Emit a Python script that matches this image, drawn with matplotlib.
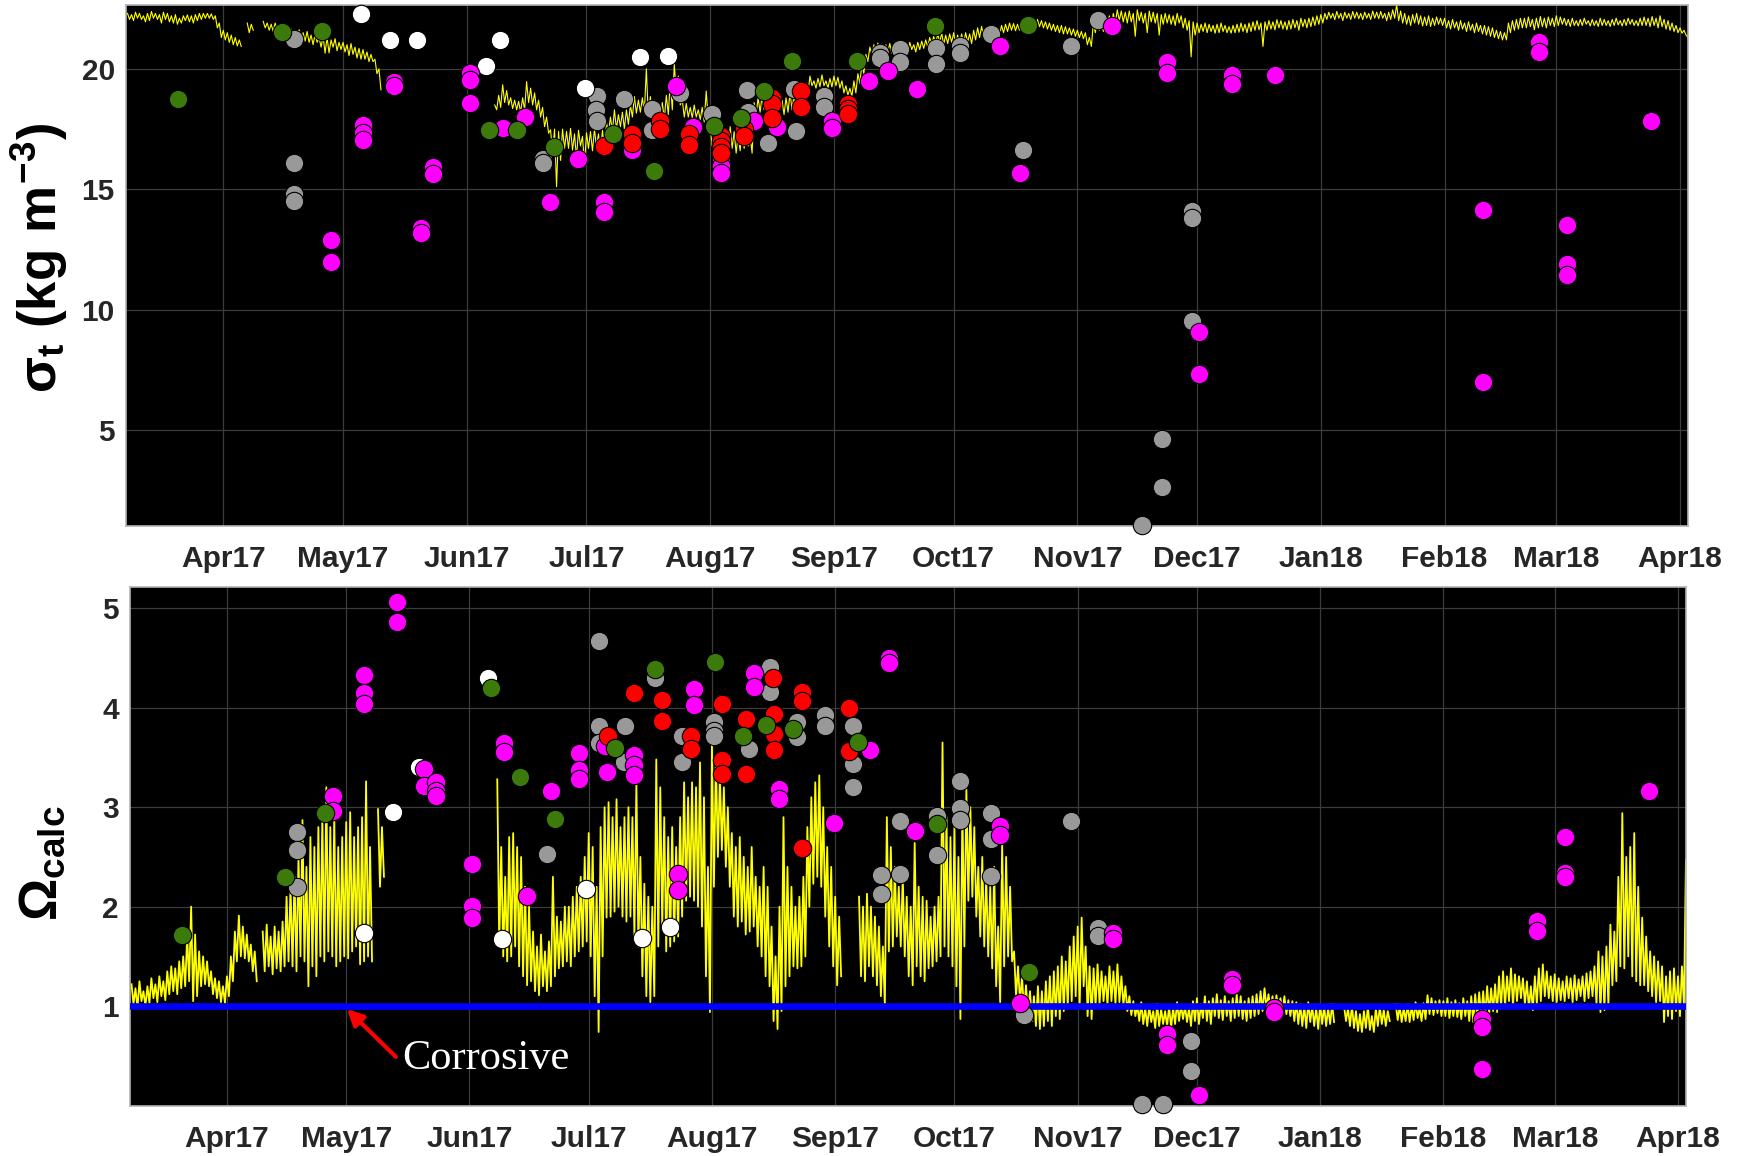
import numpy as np
import matplotlib
matplotlib.use("Agg")
import matplotlib.pyplot as plt
import matplotlib.dates as mdates
from datetime import datetime

plt.rcParams["font.family"] = ["Liberation Sans", "DejaVu Sans"]
plt.rcParams["font.weight"] = "bold"
plt.rcParams["mathtext.fontset"] = "custom"
for key in ("mathtext.rm", "mathtext.it", "mathtext.bf", "mathtext.sf"):
    plt.rcParams[key] = "Liberation Sans:bold"

nan = float("nan")

# ---------------------------------------------------------------------------
# Mooring time series, daily max / min (day of year 2017, 0 = 1 Jan 2017)
# ---------------------------------------------------------------------------
FIRST_DAY = 66

sigma_hi = [
    22.3, 22.25, 22.35, 22.3, 22.2, 22.3, 22.38, 22.3, 22.25, 22.35,        # 66
    22.3, 22.2, 22.25, 22.1, 22.2, 22.24, 22.2, 22.25, 22.3, 22.3,          # 76
    22.3, 22.28, 22.2, 21.9, 21.6, 21.5, 21.4, 21.3, 21.2, nan,             # 86
    21.9, 21.85, nan, nan, 21.97, 21.9, 21.85, 21.9, 21.8, 21.75,           # 96
    21.7, 21.65, 21.6, 21.62, 21.5, 21.55, 21.4, 21.45, 21.3, 21.35,        # 106
    21.3, 21.2, 21.25, 21.1, 21.1, 21.0, 21.05, 20.9, 20.85, 20.8,          # 116
    20.7, 20.6, 20.4, 20.0, nan, nan, nan, nan, nan, nan,                   # 126
    nan, nan, nan, nan, nan, nan, nan, nan, nan, nan,                       # 136
    nan, nan, nan, nan, nan, nan, nan, nan, nan, nan,                       # 146
    nan, nan, 18.5, 18.9, 19.34, 19.1, 18.8, 18.7, 18.65, 18.8,             # 156
    19.47, 19.2, 19.0, 18.7, 18.4, 18.0, 17.47, 17.5, 17.4, 17.5,           # 166
    17.4, 17.53, 17.3, 17.45, 17.2, 17.35, 17.4, 17.5, 17.3, 17.45,         # 176
    17.8, 18.0, 18.3, 18.1, 18.2, 18.3, 18.5, 18.85, 18.7, 18.8,            # 186
    20.0, 18.85, 18.7, 18.5, 18.6, 18.9, 19.5, 20.2, 19.7, 18.7,            # 196
    18.56, 18.4, 18.5, 18.3, 18.4, 19.08, 17.6, 17.5, 17.4, 17.6,           # 206
    17.5, 17.6, 17.4, 17.3, 17.5, 17.6, 17.2, 18.6, 18.8, 18.9,             # 216
    18.9, 19.0, 18.8, 18.9, 18.7, 18.8, 19.0, 18.9, 18.8, 19.1,             # 226
    19.4, 19.7, 19.5, 19.6, 19.75, 19.5, 19.6, 19.7, 19.65, 19.5,           # 236
    19.3, 19.2, 19.5, 19.8, 20.2, 20.6, 20.9, 21.0, 21.07, 21.0,            # 246
    21.0, 21.05, 21.0, 21.1, 21.0, 21.05, 21.1, 21.0, 21.1, 21.15,          # 256
    21.2, 21.3, 21.35, 21.45, 21.48, 21.4, 21.45, 21.5, 21.4, 21.45,        # 266
    21.5, 21.45, 21.6, 21.7, 21.76, 21.65, 21.7, 21.75, 21.7, 21.8,         # 276
    21.85, 21.9, 21.88, 21.85, 21.9, 21.95, 21.85, 22.1, 22.05, 22.0,       # 286
    21.95, 21.9, 21.85, 21.8, 21.8, 21.75, 21.7, 21.65, 21.6, 21.55,        # 296
    21.5, 21.3, 21.9, 22.0, 21.95, 22.1, 22.2, 22.3, 22.45, 22.4,           # 306
    22.35, 22.4, 22.3, 22.45, 22.35, 22.3, 22.4, 22.35, 22.3, 22.25,        # 316
    22.3, 22.25, 22.2, 22.3, 22.2, 22.1, 22.0, 21.95, 21.9, 21.85,          # 326
    21.9, 21.85, 21.8, 21.85, 21.9, 21.8, 21.75, 21.8, 21.85, 21.9,         # 336
    21.85, 21.9, 21.95, 22.0, 21.9, 21.95, 22.0, 21.95, 22.04, 22.0,        # 346
    21.95, 22.0, 22.05, 22.0, 22.1, 22.05, 22.1, 22.15, 22.2, 22.25,        # 356
    22.3, 22.35, 22.3, 22.38, 22.3, 22.35, 22.3, 22.38, 22.35, 22.3,        # 366
    22.35, 22.3, 22.4, 22.35, 22.38, 22.3, 22.35, 22.45, 22.66, 22.4,       # 376
    22.3, 22.2, 22.25, 22.3, 22.2, 22.15, 22.2, 22.1, 22.15, 22.1,          # 386
    22.1, 22.0, 22.05, 21.95, 22.0, 21.9, 21.95, 21.85, 21.9, 21.8,         # 396
    21.8, 21.75, 21.7, 21.6, 21.55, 21.5, 21.9, 22.0, 22.05, 22.1,          # 406
    22.1, 22.15, 22.05, 22.1, 22.17, 22.1, 22.15, 22.1, 22.2, 22.15,        # 416
    22.1, 22.05, 22.1, 22.0, 22.05, 22.1, 22.0, 22.05, 22.0, 22.1,          # 426
    22.05, 22.0, 22.05, 22.1, 22.0, 22.05, 22.1, 22.05, 22.0, 22.1,         # 436
    22.15, 22.1, 22.17, 22.1, 22.2, 22.05, 22.0, 21.9, 21.8, 21.7, 21.6, 21.3,  # 446
]

sigma_lo = [
    22.05, 22.0, 22.1, 22.05, 21.95, 22.0, 22.1, 22.05, 21.9, 22.05,        # 66
    21.95, 21.9, 21.85, 21.9, 22.0, 21.95, 21.9, 22.0, 22.05, 22.1,         # 76
    22.1, 22.05, 21.7, 21.3, 21.2, 21.1, 21.0, 20.95, 20.93, nan,           # 86
    21.5, 21.6, nan, nan, 21.7, 21.6, 21.55, 21.6, 21.5, 21.48,             # 96
    21.4, 21.3, 21.2, 21.25, 21.15, 21.1, 21.0, 21.1, 20.9, 20.65,          # 106
    20.66, 20.9, 20.75, 20.8, 20.7, 20.55, 20.6, 20.45, 20.4, 20.4,         # 116
    20.3, 20.3, 19.8, 19.13, nan, nan, nan, nan, nan, nan,                  # 126
    nan, nan, nan, nan, nan, nan, nan, nan, nan, nan,                       # 136
    nan, nan, nan, nan, nan, nan, nan, nan, nan, nan,                       # 146
    nan, nan, 18.3, 18.4, 18.6, 18.5, 18.35, 18.3, 18.2, 18.3,              # 156
    18.6, 18.5, 18.3, 18.0, 17.6, 17.33, 16.5, 15.11, 16.2, 16.7,           # 166
    16.7, 16.63, 16.3, 16.8, 16.0, 16.7, 16.6, 16.75, 16.5, 16.8,           # 176
    17.33, 17.4, 17.5, 17.6, 17.5, 17.7, 18.0, 18.16, 18.2, 18.2,           # 186
    18.0, 18.0, 17.9, 17.8, 17.9, 18.1, 18.3, 19.0, 18.5, 18.0,             # 196
    18.0, 17.97, 18.0, 17.9, 17.8, 17.9, 16.8, 16.5, 16.7, 16.6,            # 206
    16.6, 16.7, 16.5, 16.6, 16.7, 16.8, 16.5, 18.1, 18.2, 18.3,             # 216
    18.3, 18.35, 18.2, 18.3, 18.1, 18.2, 18.3, 18.4, 18.3, 18.4,            # 226
    19.0, 19.3, 19.2, 19.26, 19.3, 19.2, 19.25, 19.3, 19.2, 19.0,           # 236
    18.9, 18.86, 19.0, 19.4, 19.8, 20.3, 20.6, 20.65, 20.7, 20.65,          # 246
    20.7, 20.65, 20.7, 20.58, 20.75, 20.7, 20.8, 20.7, 20.8, 20.85,         # 256
    20.9, 21.0, 21.05, 21.1, 21.0, 21.05, 21.1, 21.0, 21.1, 21.05,          # 266
    21.1, 21.05, 21.2, 21.3, 21.35, 21.25, 21.3, 21.35, 21.4, 21.5,         # 276
    21.55, 21.6, 21.58, 21.6, 21.65, 21.6, 21.55, 21.8, 21.75, 21.7,        # 286
    21.65, 21.6, 21.55, 21.5, 21.45, 21.45, 21.4, 21.35, 21.3, 21.25,       # 296
    21.0, 20.93, 21.5, 21.6, 21.55, 21.7, 21.8, 21.9, 22.0, 21.95,          # 306
    21.9, 21.95, 21.35, 22.0, 21.9, 21.5, 21.95, 21.9, 21.4, 21.85,         # 316
    21.9, 21.85, 21.8, 21.9, 21.7, 21.6, 20.5, 21.4, 21.5, 21.55,           # 326
    21.5, 21.55, 21.48, 21.5, 21.55, 21.5, 21.48, 21.5, 21.52, 21.55,       # 336
    21.5, 21.55, 21.6, 21.62, 20.93, 21.6, 21.65, 21.62, 21.7, 21.65,       # 346
    21.62, 21.65, 21.7, 21.6, 21.75, 21.7, 21.75, 21.8, 21.85, 21.9,        # 356
    22.05, 22.1, 22.04, 22.1, 22.0, 22.1, 22.05, 22.1, 22.08, 22.04,        # 366
    22.1, 22.05, 22.1, 22.08, 22.1, 22.0, 22.05, 22.1, 22.0, 21.9,          # 376
    21.85, 21.8, 21.9, 21.85, 21.78, 21.8, 21.76, 21.8, 21.85, 21.8,        # 386
    21.7, 21.65, 21.7, 21.6, 21.65, 21.55, 21.6, 21.5, 21.55, 21.45,        # 396
    21.4, 21.35, 21.3, 21.25, 21.2, 21.2, 21.5, 21.6, 21.65, 21.7,          # 406
    21.7, 21.75, 21.62, 21.7, 21.75, 21.7, 21.8, 21.75, 21.8, 21.85,        # 416
    21.8, 21.76, 21.8, 21.78, 21.8, 21.85, 21.78, 21.8, 21.76, 21.8,        # 426
    21.8, 21.76, 21.8, 21.82, 21.78, 21.8, 21.85, 21.8, 21.78, 21.8,        # 436
    21.8, 21.75, 21.8, 21.7, 21.75, 21.65, 21.6, 21.55, 21.5, 21.48, 21.4, 20.65,  # 446
]

omega_hi = [
    1.22, 1.18, 1.25, 1.15, 1.2, 1.28, 1.22, 1.3, 1.25, 1.35,               # 66
    1.4, 1.38, 1.45, 1.5, 1.7, 2.0, 1.72, 1.55, 1.5, 1.45,                  # 76
    1.35, 1.28, 1.25, 1.2, 1.3, 1.5, 1.75, 1.91, 1.8, 1.72,                 # 86
    1.62, 1.55, nan, 1.75, 1.82, 1.7, 1.8, 1.75, 1.85, 2.1,                 # 96
    2.2, 2.3, 2.5, 2.87, 2.4, 2.7, 2.6, 2.8, 2.9, 3.2,                      # 106
    2.8, 2.9, 2.6, 2.7, 2.85, 2.95, 2.7, 2.8, 2.9, 3.26,                    # 116
    2.6, nan, 2.98, 2.8, nan, nan, nan, nan, nan, nan,                      # 126
    nan, nan, nan, nan, nan, nan, nan, nan, nan, nan,                       # 136
    nan, nan, nan, nan, nan, nan, nan, nan, nan, nan,                       # 146
    nan, nan, 3.28, 2.6, 2.3, 2.7, 2.74, 2.6, 2.5, 2.2,                     # 156
    2.0, 1.75, 1.6, 1.72, 1.55, 1.65, 2.3, 1.9, 1.85, 2.0,                  # 166
    2.0, 2.1, 2.2, 2.3, 2.5, 2.74, 2.6, 2.2, 2.8, 3.0,                      # 176
    3.05, 2.9, 3.08, 2.8, 2.9, 3.0, 2.9, 3.25, 2.5, 2.23,                   # 186
    2.1, 2.0, 3.48, 3.2, 2.9, 2.7, 2.8, 2.6, 2.9, 3.25,                     # 196
    3.1, 3.25, 3.2, 3.45, 3.1, 2.4, 3.65, 3.5, 3.32, 3.2,                   # 206
    3.0, 2.74, 2.6, 2.7, 2.5, 2.4, 2.6, 2.3, 2.2, 2.4,                      # 216
    2.2, 1.8, 1.5, 2.0, 2.9, 2.4, 2.2, 2.0, 2.1, 2.3,                       # 226
    2.8, 3.1, 3.25, 3.32, 3.0, 2.6, 2.4, 2.1, 1.9, nan,                     # 236
    nan, nan, nan, 2.1, 2.0, 2.13, 2.0, 1.9, 1.8, 1.6,                      # 246
    2.9, 2.6, 2.4, 2.2, 2.3, 2.1, 2.0, 2.64, 2.2, 2.1,                      # 256
    2.06, 1.9, 2.0, 2.1, 3.65, 2.9, 2.7, 2.8, 2.5, 3.0,                     # 266
    3.18, 3.0, 2.8, 2.4, 2.5, 2.3, 2.2, 2.4, 1.8, 2.64,                     # 276
    2.5, 2.2, 1.55, 1.4, 1.3, 1.21, 1.15, 1.1, 1.2, 1.15,                   # 286
    1.25, 1.3, 1.35, 1.4, 1.5, 1.45, 1.6, 1.7, 1.8, 1.89,                   # 296
    1.6, 1.4, 1.38, 1.42, 1.35, 1.3, 1.4, 1.35, 1.42, 1.3,                  # 306
    1.2, 1.1, 1.05, 1.0, 1.04, 0.98, 1.0, 0.95, 1.02, 0.97,                 # 316
    0.95, 1.0, 0.98, 1.04, 1.01, 1.0, 0.98, 1.05, 1.08, 1.02,               # 326
    1.1, 1.05, 1.08, 1.12, 1.06, 1.1, 1.05, 1.08, 1.12, 1.1,                # 336
    1.05, 1.08, 1.1, 1.12, 1.15, 1.18, 1.12, 1.1, 1.11, 1.08,               # 346
    1.1, 1.06, 1.05, 1.04, 1.02, 1.0, 1.04, 1.0, 0.98, 1.02,                # 356
    1.0, 0.98, 1.02, nan, nan, 1.0, 0.98, 1.01, 0.95, 0.92,                 # 366
    0.95, 1.0, 0.9, 0.98, 1.0, 0.96, 0.95, nan, 1.02, 1.0,                  # 376
    0.98, 1.02, 1.0, 1.04, 0.98, 1.03, 1.11, 1.08, 1.05, 1.06,              # 386
    1.05, 1.08, 1.04, 1.06, 1.03, 1.08, 1.05, 1.1, 1.12, 1.14,              # 396
    1.15, 1.2, 1.18, 1.22, 1.3, 1.35, 1.3, 1.38, 1.32, 1.3,                 # 406
    1.28, 1.25, 1.2, 1.3, 1.38, 1.42, 1.35, 1.3, 1.32, 1.28,                # 416
    1.25, 1.3, 1.28, 1.31, 1.27, 1.3, 1.33, 1.35, 1.4, 1.55,                # 426
    1.5, 1.6, 1.82, 1.75, 2.3, 2.94, 2.5, 2.6, 2.74, 2.2,                   # 436
    1.89, 1.7, 1.55, 1.5, 1.45, 1.4, 1.3, 1.35, 1.38, 1.3, 1.4, 2.47,       # 446
]

omega_lo = [
    1.02, 0.98, 1.05, 1.0, 1.03, 1.08, 1.04, 1.1, 1.06, 1.12,               # 66
    1.15, 1.12, 1.18, 1.2, 1.25, 1.05, 1.1, 1.2, 1.22, 1.2,                 # 76
    1.12, 1.08, 1.04, 1.03, 1.1, 1.25, 1.45, 1.5, 1.48, 1.45,               # 86
    1.35, 1.25, nan, 1.35, 1.4, 1.32, 1.38, 1.35, 1.4, 1.45,                # 96
    1.4, 1.35, 1.5, 1.45, 1.2, 1.4, 1.3, 1.5, 1.45, 1.55,                   # 106
    1.5, 1.4, 1.45, 1.5, 1.48, 1.55, 1.6, 1.42, 1.45, 1.5,                  # 116
    1.45, nan, 2.2, 2.3, nan, nan, nan, nan, nan, nan,                      # 126
    nan, nan, nan, nan, nan, nan, nan, nan, nan, nan,                       # 136
    nan, nan, nan, nan, nan, nan, nan, nan, nan, nan,                       # 146
    nan, nan, 1.6, 1.5, 1.45, 1.5, 1.6, 1.4, 1.3, 1.21,                     # 156
    1.25, 1.15, 1.11, 1.2, 1.15, 1.2, 1.3, 1.38, 1.4, 1.45,                 # 166
    1.4, 1.5, 1.55, 1.6, 1.65, 1.5, 1.1, 0.74, 1.5, 1.89,                   # 176
    1.9, 1.95, 2.0, 1.9, 1.85, 1.9, 1.7, 1.6, 1.3, 1.1,                     # 186
    1.04, 1.1, 1.6, 1.8, 1.55, 1.6, 1.65, 1.7, 1.9, 2.06,                   # 196
    2.1, 2.06, 2.0, 1.8, 1.3, 0.94, 2.2, 2.5, 2.57, 2.4,                    # 206
    2.2, 1.9, 1.8, 1.85, 1.72, 1.75, 1.8, 1.6, 1.5, 1.3,                    # 216
    1.2, 0.85, 0.77, 0.95, 1.2, 1.3, 1.4, 1.38, 1.4, 1.5,                   # 226
    2.0, 2.23, 2.3, 2.2, 1.9, 1.6, 1.4, 1.21, 1.3, nan,                     # 236
    nan, nan, nan, 1.3, 1.25, 1.4, 1.3, 1.21, 1.1, 1.0,                     # 246
    1.55, 1.6, 1.7, 1.6, 1.5, 1.3, 1.21, 1.4, 1.3, 1.25,                    # 256
    1.38, 1.4, 1.45, 1.5, 1.6, 1.5, 1.4, 1.2, 0.87, 1.6,                    # 266
    2.06, 2.1, 1.9, 1.7, 1.6, 1.5, 1.38, 1.2, 1.04, 1.4,                    # 276
    1.5, 1.45, 1.1, 1.04, 0.95, 0.9, 0.85, 0.8, 0.77, 0.8,                  # 286
    0.85, 0.8, 0.9, 0.87, 0.95, 1.0, 1.05, 1.1, 1.0, 1.2,                   # 296
    0.9, 0.87, 1.0, 1.02, 1.05, 1.01, 1.05, 1.02, 1.04, 1.01,               # 306
    0.95, 0.91, 0.9, 0.85, 0.82, 0.8, 0.84, 0.78, 0.8, 0.82,                # 316
    0.8, 0.78, 0.82, 0.85, 0.87, 0.84, 0.8, 0.85, 0.82, 0.88,               # 326
    0.85, 0.82, 0.9, 0.88, 0.86, 0.9, 0.85, 0.88, 0.9, 0.87,                # 336
    0.85, 0.88, 0.9, 0.92, 0.95, 0.98, 0.95, 0.94, 0.96, 0.94,              # 346
    0.92, 0.9, 0.85, 0.82, 0.8, 0.78, 0.84, 0.8, 0.77, 0.82,                # 356
    0.8, 0.82, 0.84, nan, nan, 0.85, 0.8, 0.78, 0.75, 0.74,                 # 366
    0.78, 0.76, 0.74, 0.8, 0.82, 0.8, 0.85, nan, 0.86, 0.84,                # 376
    0.85, 0.84, 0.86, 0.88, 0.85, 0.87, 0.92, 0.91, 0.93, 0.9,              # 386
    0.9, 0.88, 0.9, 0.89, 0.87, 0.9, 0.85, 0.84, 0.88, 0.9,                 # 396
    0.9, 0.92, 0.95, 0.94, 0.98, 1.0, 1.05, 1.0, 1.05, 1.08,                # 406
    1.02, 0.98, 0.96, 1.02, 1.05, 1.1, 1.08, 1.05, 1.04, 1.06,              # 416
    1.05, 1.08, 1.04, 1.06, 1.1, 1.05, 1.08, 1.1, 1.02, 0.94,               # 426
    0.96, 1.0, 1.21, 1.25, 1.4, 1.38, 1.5, 1.3, 1.25, 1.21,                 # 436
    1.21, 1.15, 1.1, 1.04, 1.05, 0.84, 0.9, 0.87, 0.95, 0.9, 1.0, 1.4,      # 446
]

# ---------------------------------------------------------------------------
# Discrete bottle samples (day of year 2017, value), grouped by source
# ---------------------------------------------------------------------------
sig_gray_day = [107.7, 107.7, 107.7, 107.7, 170.2, 170.2, 183.7, 183.5, 183.7,
                190.3, 197.5, 197.5, 204.4, 212.4, 221.3, 221.5, 226.6, 233.0,
                233.5, 240.5, 240.5, 254.6, 254.6, 259.5, 259.5, 268.5, 268.5,
                274.5, 274.5, 282.4, 290.3, 302.5, 309.2, 325.3, 325.3, 320.1,
                332.6, 332.6, 332.6]
sig_gray_val = [21.23, 16.09, 14.79, 14.5, 16.26, 16.08, 18.86, 18.3, 17.85,
                18.74, 18.34, 17.45, 19.0, 18.12, 19.13, 18.2, 16.93, 19.16,
                17.41, 18.86, 18.4, 20.64, 20.45, 20.83, 20.27, 20.86, 20.19,
                20.93, 20.64, 21.45, 16.64, 20.96, 22.04, 4.64, 2.64, 1.08,
                14.12, 13.82, 9.53]

sig_white_day = [124.4, 131.7, 138.6, 155.8, 159.3, 180.6, 194.4, 201.5]
sig_white_val = [22.29, 21.2, 21.2, 20.1, 21.2, 19.2, 20.49, 20.53]

sig_magenta_day = [116.9, 116.9, 124.9, 124.9, 124.9, 132.7, 132.7, 139.6, 139.6,
                   142.6, 142.6, 151.7, 151.7, 151.7, 160.0, 165.5, 171.8, 178.9,
                   185.5, 185.5, 192.4, 203.5, 207.6, 214.8, 214.8, 214.8, 222.9,
                   228.7, 242.6, 242.6, 251.7, 256.5, 263.7, 284.6, 289.6, 312.6,
                   326.5, 326.5, 334.5, 334.5, 342.7, 342.7, 353.5, 405.7, 405.7,
                   419.6, 419.6, 426.6, 426.6, 426.6, 447.6]
sig_magenta_val = [12.9, 12.0, 17.67, 17.33, 17.05, 19.47, 19.3, 13.38, 13.17,
                   15.94, 15.65, 19.82, 19.54, 18.57, 17.53, 18.0, 14.49, 16.27,
                   14.49, 14.04, 16.64, 19.3, 17.6, 16.19, 15.97, 15.67, 17.82,
                   17.6, 17.82, 17.53, 19.48, 19.9, 19.16, 20.93, 15.67, 21.79,
                   20.27, 19.82, 9.08, 7.35, 19.75, 19.35, 19.75, 14.16, 7.0,
                   21.11, 20.71, 13.53, 11.9, 11.45, 17.82]

sig_red_day = [185.5, 192.4, 192.4, 199.4, 199.4, 206.6, 206.6, 214.6, 214.6,
               214.6, 214.6, 220.5, 220.5, 227.4, 227.4, 227.4, 234.7, 234.7,
               246.4, 246.4, 246.4]
sig_red_val = [16.79, 17.3, 16.93, 17.82, 17.52, 17.3, 16.86, 17.23, 17.0,
               16.75, 16.5, 17.5, 17.23, 18.79, 18.56, 17.97, 19.08, 18.41,
               18.56, 18.34, 18.12]

sig_green_day = [78.7, 104.7, 114.8, 156.5, 163.7, 172.8, 187.7, 197.8, 212.9,
                 219.8, 225.6, 232.5, 248.8, 268.4, 291.7]
sig_green_val = [18.75, 21.52, 21.59, 17.47, 17.47, 16.77, 17.3, 15.75, 17.64,
                 17.97, 19.08, 20.31, 20.34, 21.79, 21.82]

om_gray_day = [107.6, 107.6, 107.6, 170.5, 183.7, 183.7, 183.7, 190.2, 190.0,
               197.8, 204.5, 204.5, 212.4, 212.4, 212.4, 221.2, 226.7, 226.7,
               233.4, 233.4, 240.5, 240.5, 247.6, 247.6, 247.6, 254.6, 254.6,
               259.4, 259.4, 268.6, 268.6, 274.5, 274.5, 274.5, 282.3, 282.3,
               282.3, 290.4, 302.3, 309.1, 309.1, 320.2, 325.4, 332.6, 332.6]
om_gray_val = [2.75, 2.57, 2.2, 2.53, 4.67, 3.82, 3.65, 3.82, 3.45,
               4.3, 3.72, 3.45, 3.86, 3.77, 3.72, 3.59, 4.41, 4.16,
               3.86, 3.71, 3.93, 3.82, 3.82, 3.43, 3.2, 2.32, 2.13,
               2.86, 2.33, 2.91, 2.52, 3.26, 2.99, 2.87, 2.94, 2.68,
               2.31, 0.91, 2.86, 1.79, 1.71, 0.02, 0.02, 0.65, 0.35]

om_white_day = [124.4, 131.7, 138.2, 155.6, 159.3, 180.4, 194.4, 201.5]
om_white_val = [1.74, 2.95, 3.4, 4.3, 1.67, 2.18, 1.68, 1.8]

om_magenta_day = [116.8, 116.8, 124.6, 124.6, 124.6, 132.8, 132.8, 139.5, 139.5,
                  142.6, 142.6, 142.6, 151.6, 151.6, 151.6, 159.6, 159.6, 165.5,
                  171.6, 178.6, 178.6, 178.6, 185.2, 185.6, 192.5, 192.5, 192.5,
                  203.5, 203.5, 207.6, 207.6, 222.7, 222.7, 228.8, 228.8, 242.6,
                  251.8, 256.5, 256.5, 263.2, 284.5, 284.5, 289.6, 312.8, 312.8,
                  326.5, 326.5, 334.4, 342.8, 342.8, 353.3, 353.3, 405.7, 405.7,
                  405.7, 419.6, 419.6, 426.5, 426.5, 426.5, 447.6]
om_magenta_val = [3.11, 2.96, 4.33, 4.15, 4.04, 5.06, 4.86, 3.38, 3.21,
                  3.25, 3.16, 3.11, 2.43, 2.01, 1.89, 3.65, 3.55, 2.11,
                  3.16, 3.54, 3.37, 3.28, 3.62, 3.35, 3.52, 3.42, 3.32,
                  2.33, 2.17, 4.19, 4.03, 4.35, 4.21, 3.18, 3.08, 2.84,
                  3.57, 4.5, 4.45, 2.76, 2.81, 2.72, 1.03, 1.74, 1.67,
                  0.72, 0.61, 0.11, 1.27, 1.21, 0.98, 0.94, 0.87, 0.79,
                  0.37, 1.86, 1.76, 2.7, 2.34, 2.3, 3.16]

om_red_day = [185.8, 192.5, 199.4, 199.4, 206.7, 206.7, 214.5, 214.5, 214.5,
              220.6, 220.6, 227.3, 227.5, 227.5, 227.5, 234.6, 234.6, 234.6,
              246.4, 246.4]
om_red_val = [3.72, 4.15, 4.08, 3.87, 3.72, 3.59, 4.04, 3.47, 3.33,
              3.89, 3.33, 4.3, 3.94, 3.74, 3.57, 4.16, 4.07, 2.59,
              4.0, 3.56]

om_green_day = [78.8, 104.7, 114.7, 156.4, 163.8, 172.6, 187.7, 197.8, 212.7,
                219.7, 225.6, 232.5, 248.7, 268.6, 291.7]
om_green_val = [1.72, 2.3, 2.94, 4.2, 3.3, 2.88, 3.6, 4.39, 4.46,
                3.72, 3.83, 3.79, 3.66, 2.83, 1.34]

SATURATION = 1.0

# ---------------------------------------------------------------------------
EPOCH = mdates.date2num(datetime(2017, 1, 1))


def to_date(days):
    return EPOCH + np.asarray(days, dtype=float)


def trace(hi, lo):
    """Daily max/min pairs drawn as one continuous sawtooth trace."""
    n = min(len(hi), len(lo))
    day = FIRST_DAY + np.arange(n)
    t = np.empty(2 * n)
    v = np.empty(2 * n)
    t[0::2] = day
    t[1::2] = day + 0.5
    v[0::2] = np.asarray(hi[:n], dtype=float)
    v[1::2] = np.asarray(lo[:n], dtype=float)
    return to_date(t), v


GREEN = "#3b7a0b"
GRAY = "#999999"
MAGENTA = "#ff00ff"
RED = "#ff0000"
TICK_COLOR = "#262626"


def style(ax, ylim, yticks):
    ax.set_facecolor("black")
    ax.set_xlim(to_date(65.6), to_date(457.0))
    ax.set_ylim(*ylim)
    ax.set_yticks(yticks)
    ax.xaxis.set_major_locator(mdates.MonthLocator())
    ax.xaxis.set_major_formatter(mdates.DateFormatter("%b%y"))
    ax.grid(True, color="#3c3c3c", lw=0.9)
    ax.set_axisbelow(True)
    ax.tick_params(axis="both", length=0, labelsize=21.5, labelcolor=TICK_COLOR)
    ax.tick_params(axis="x", pad=14)
    ax.tick_params(axis="y", pad=8)
    for s in ax.spines.values():
        s.set_color("#b4b4b4")
        s.set_linewidth(1.2)


def samples(ax, groups):
    z = 5
    for days, vals, color in groups:
        ax.scatter(to_date(days), vals, s=175, c=color, edgecolors="black",
                   linewidths=0.8, zorder=z, clip_on=False)
        z += 1


fig = plt.figure(figsize=(17.44, 11.56), dpi=100)
fig.patch.set_facecolor("white")

ax1 = fig.add_axes([0.0722, 0.5454, 0.8957, 0.4503])
ax2 = fig.add_axes([0.0745, 0.0436, 0.8922, 0.4483])

# --- density panel ---
t, v = trace(sigma_hi, sigma_lo)
ax1.plot(t, v, color="yellow", lw=0.8, zorder=2)
samples(ax1, [
    (sig_gray_day, sig_gray_val, GRAY),
    (sig_white_day, sig_white_val, "white"),
    (sig_magenta_day, sig_magenta_val, MAGENTA),
    (sig_red_day, sig_red_val, RED),
    (sig_green_day, sig_green_val, GREEN),
])
style(ax1, (1.05, 22.65), [5, 10, 15, 20])

# --- saturation-state panel ---
t, v = trace(omega_hi, omega_lo)
ax2.plot(t, v, color="yellow", lw=1.3, zorder=2)
ax2.axhline(SATURATION, color="#0000ff", lw=4.8, zorder=3)
samples(ax2, [
    (om_gray_day, om_gray_val, GRAY),
    (om_white_day, om_white_val, "white"),
    (om_magenta_day, om_magenta_val, MAGENTA),
    (om_red_day, om_red_val, RED),
    (om_green_day, om_green_val, GREEN),
])
style(ax2, (0.0, 5.21), [1, 2, 3, 4, 5])

ax2.annotate("", xy=(to_date(120.2), 0.97), xytext=(to_date(132.5), 0.49),
             arrowprops=dict(arrowstyle="-|>", color="red", lw=3,
                             mutation_scale=24, shrinkA=0, shrinkB=0),
             zorder=6)
ax2.text(to_date(134.1), 0.365, "Corrosive", family="Liberation Serif",
         fontweight="normal", fontsize=30.5, color="white",
         ha="left", va="baseline", zorder=6)

fig.text(39 / 1744, 1 - 258 / 1156, r"$\sigma_t\ (kg\ m^{-3})$", rotation=90,
         ha="center", va="center", fontsize=38, color="black")
fig.text(43 / 1744, 1 - 863 / 1156, r"$\Omega_{calc}$", rotation=90,
         ha="center", va="center", fontsize=38, color="black")

fig.savefig("out.png", dpi=100, facecolor="white")
